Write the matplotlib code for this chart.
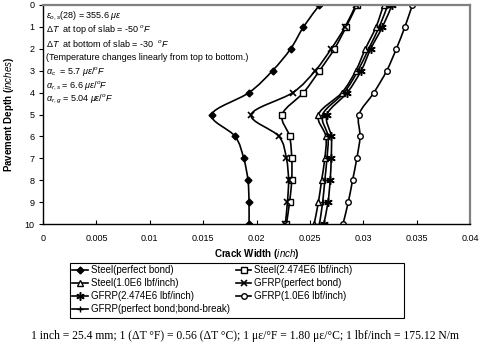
import numpy as np
import matplotlib
matplotlib.use("Agg")
import matplotlib.pyplot as plt
from matplotlib.path import Path
from matplotlib.patches import PathPatch, Rectangle
from matplotlib.lines import Line2D

plt.rcParams['font.family'] = ['Liberation Sans', 'DejaVu Sans']
plt.rcParams['mathtext.fontset'] = 'custom'
plt.rcParams['mathtext.rm'] = 'Liberation Sans'
plt.rcParams['mathtext.it'] = 'Liberation Sans:italic'

depth = [0, 1, 2, 3, 4, 5, 6, 7, 8, 9, 10]

steel_pb = [0.0259, 0.0244, 0.0232, 0.0215, 0.0193, 0.0158, 0.0180, 0.0188, 0.0192, 0.0193, 0.0193]
steel_2474 = [0.0294, 0.0284, 0.0273, 0.0259, 0.0244, 0.0224, 0.0231, 0.0233, 0.0233, 0.0231, 0.0228]
steel_10 = [0.0319, 0.0312, 0.0302, 0.0293, 0.0280, 0.0258, 0.0265, 0.0264, 0.0261, 0.0258, 0.0254]
gfrp_pb = [0.0293, 0.0283, 0.0270, 0.0255, 0.0234, 0.0195, 0.0221, 0.0228, 0.0230, 0.0229, 0.0227]
gfrp_2474 = [0.0327, 0.0318, 0.0307, 0.0298, 0.0285, 0.0266, 0.0270, 0.0270, 0.0269, 0.0267, 0.0263]
gfrp_10 = [0.0346, 0.0339, 0.0331, 0.0322, 0.0310, 0.0296, 0.0297, 0.0294, 0.0290, 0.0286, 0.0281]
gfrp_bb = [0.0323, 0.0315, 0.0305, 0.0295, 0.0282, 0.0262, 0.0267, 0.0266, 0.0264, 0.0262, 0.0259]

labels = ["Steel(perfect bond)", "Steel(2.474E6 lbf/inch)", "Steel(1.0E6 lbf/inch)",
          "GFRP(perfect bond)", "GFRP(2.474E6 lbf/inch)", "GFRP(1.0E6 lbf/inch)",
          "GFRP(perfect bond;bond-break)"]
series = [steel_pb, steel_2474, steel_10, gfrp_pb, gfrp_2474, gfrp_10, gfrp_bb]
markers = [
    dict(marker='D', ms=3.5, mfc='black', mec='black'),
    dict(marker='s', ms=4, mfc='white', mec='black', mew=1),
    dict(marker='^', ms=4.5, mfc='white', mec='black', mew=1),
    dict(marker='x', ms=4.5, mec='black', mew=1.2),
    dict(marker=(6, 2, 0), ms=6, mec='black', mew=1.1),
    dict(marker='o', ms=4, mfc='white', mec='black', mew=1),
    dict(marker='+', ms=5, mec='black', mew=1),
]

notes = [r"$\varepsilon_{o,s}$(28) = 355.6 $\mu\varepsilon$",
         r"$\Delta T$  at top of slab = -50 $^o F$",
         r"$\Delta T$  at bottom of slab = -30  $^o F$",
         "(Temperature changes linearly from top to bottom.)",
         r"$\alpha_c$  = 5.7 $\mu\varepsilon/^o F$",
         r"$\alpha_{r,s}$ = 6.6 $\mu\varepsilon/^o F$",
         r"$\alpha_{r,g}$ = 5.04 $\mu\varepsilon/^o F$"]

footer = "1 inch = 25.4 mm; 1 (\u0394T \u00b0F) = 0.56 (\u0394T \u00b0C); 1 \u03bc\u03b5/\u00b0F = 1.80 \u03bc\u03b5/\u00b0C; 1 lbf/inch = 175.12 N/m"


def smooth_path(x, y):
    # Catmull-Rom curve through the points, drawn as cubic Bezier segments
    p = np.column_stack([x, y]).astype(float)
    ext = np.vstack([p[0], p, p[-1]])
    verts = [p[0]]
    codes = [Path.MOVETO]
    for i in range(len(p) - 1):
        p0, p1, p2, p3 = ext[i], ext[i + 1], ext[i + 2], ext[i + 3]
        verts += [p1 + (p2 - p0) / 6, p2 - (p3 - p1) / 6, p2]
        codes += [Path.CURVE4] * 3
    return Path(verts, codes)


W, H = 490, 354
fig = plt.figure(figsize=(W / 100, H / 100), dpi=100)
ax = fig.add_axes([43 / W, 1 - 224 / H, 427 / W, 219 / H])

for vals, mk in zip(series, markers):
    ax.add_patch(PathPatch(smooth_path(vals, depth), fc='none', ec='black', lw=1.2))
    ax.plot(vals, depth, ls='none', **mk)

ax.set_xlim(0, 0.04)
ax.set_ylim(10, 0)
ax.set_xticks(np.arange(0, 0.0401, 0.005))
ax.set_xticklabels(["0", "0.005", "0.01", "0.015", "0.02", "0.025", "0.03", "0.035", "0.04"])
ax.set_yticks(range(0, 11))
ax.tick_params(axis='x', direction='in', length=3, labelsize=6.5, pad=7)
ax.tick_params(axis='y', direction='out', length=3, labelsize=6.5, pad=3)
for s in ['top', 'right']:
    ax.spines[s].set_color('#808080')
    ax.spines[s].set_linewidth(1.6)
for s in ['left', 'bottom']:
    ax.spines[s].set_linewidth(1.0)

ax.set_xlabel(r"Crack Width ($\mathbf{\mathit{inch}}$)", fontsize=7, fontweight='bold', labelpad=3)
ax.set_ylabel(r"Pavement Depth ($\mathbf{\mathit{inches}}$)", fontsize=7, fontweight='bold', labelpad=6)

for i, t in enumerate(notes):
    ax.text(0.0003, 0.47 + i * 0.64, t, fontsize=6.5, va='center', ha='left')

# legend box is wider than its entries, so draw the frame separately
fig.patches.append(Rectangle((70 / W, 1 - 318 / H), 334 / W, 55 / H,
                             transform=fig.transFigure, fc='white', ec='black', lw=0.8))
handles = [Line2D([], [], color='black', lw=1.2, **mk) for mk in markers]
order = [0, 2, 4, 6, 1, 3, 5]
leg = fig.legend([handles[i] for i in order], [labels[i] for i in order],
                 loc='upper left', bbox_to_anchor=(70 / W, 1 - 263 / H),
                 ncol=2, fontsize=7.0, frameon=False, borderpad=0.25,
                 labelspacing=0.3, handlelength=1.6, handletextpad=0.3,
                 columnspacing=0.6, borderaxespad=0)

fig.text(0.5, 1 - 336 / H, footer, fontsize=8.4, family='Liberation Serif',
         ha='center', va='center')

fig.savefig("out.png", dpi=100)
